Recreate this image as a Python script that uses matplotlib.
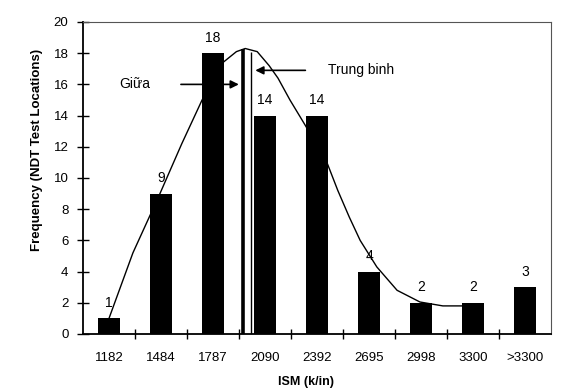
import matplotlib

matplotlib.use("Agg")
import matplotlib.pyplot as plt
import numpy as np

plt.rcParams["font.family"] = ["Liberation Sans", "DejaVu Sans"]

# histogram of ISM values
categories = ["1182", "1484", "1787", "2090", "2392", "2695", "2998", "3300", ">3300"]
counts = [1, 9, 18, 14, 14, 4, 2, 2, 3]

# fitted curve (x in category units)
curve_x = [0.0, 0.46, 0.98, 1.40, 1.79, 2.19, 2.45, 2.62, 2.85, 3.08, 3.25, 3.48,
           3.77, 4.19, 4.40, 4.62, 4.83, 5.15, 5.54, 5.98, 6.42, 6.79]
curve_y = [1.0, 5.2, 9.0, 12.2, 15.0, 17.4, 18.1, 18.3, 18.1, 17.2, 16.4, 15.0,
           13.4, 11.0, 9.2, 7.5, 6.0, 4.3, 2.8, 2.05, 1.8, 1.8]

median_x, median_top = 2.58, 18.3   # Giữa
mean_x, mean_top = 2.74, 18.1       # Trung binh

fig = plt.figure(figsize=(5.72, 3.92), dpi=100)
ax = fig.add_axes([0.1451, 0.148, 0.8182, 0.7959])

x = np.arange(len(categories))
ax.bar(x, counts, width=0.42, color="black", zorder=3)
ax.plot(curve_x, curve_y, color="black", lw=1.0, zorder=2)

for xi, c in zip(x, counts):
    ax.annotate(str(c), (xi, c), xytext=(0, 6), textcoords="offset points",
                ha="center", va="bottom", fontsize=10)

ax.vlines(median_x, 0, median_top, color="black", lw=2.6, zorder=4)
ax.vlines(mean_x, 0, mean_top, color="black", lw=1.0, zorder=4)

ax.annotate("", xy=(median_x - 0.03, 16.0), xytext=(1.33, 16.0),
            arrowprops=dict(arrowstyle="-|>", color="black", lw=1.2, mutation_scale=12))
ax.text(0.79, 16.0, "Giữa", ha="right", va="center", fontsize=10)
ax.annotate("", xy=(mean_x + 0.02, 16.9), xytext=(3.83, 16.9),
            arrowprops=dict(arrowstyle="-|>", color="black", lw=1.2, mutation_scale=12))
ax.text(4.22, 16.9, "Trung binh", ha="left", va="center", fontsize=10)

ax.set_xlim(-0.5, 8.5)
ax.set_ylim(0, 20)
ax.set_xticks(x)
ax.set_xticklabels(categories)
ax.set_xticks(np.arange(0.5, 8.5, 1), minor=True)
ax.tick_params(axis="x", which="major", length=0, pad=13, labelsize=9.5)
ax.tick_params(axis="x", which="minor", direction="inout", length=7, width=1)
ax.set_yticks(np.arange(0, 21, 2))
ax.tick_params(axis="y", direction="inout", length=9, width=1, pad=6, labelsize=9.5)

for s in ["left", "bottom"]:
    ax.spines[s].set_linewidth(1.3)
for s in ["top", "right"]:
    ax.spines[s].set_linewidth(0.8)
    ax.spines[s].set_color("#555555")

ax.set_xlabel("ISM (k/in)", fontsize=9, fontweight="bold")
ax.xaxis.set_label_coords(0.477, -0.135)
ax.set_ylabel("Frequency (NDT Test Locations)", fontsize=9.5, fontweight="bold")
ax.yaxis.set_label_coords(-0.085, 0.59)

fig.savefig("out.png", dpi=100)
